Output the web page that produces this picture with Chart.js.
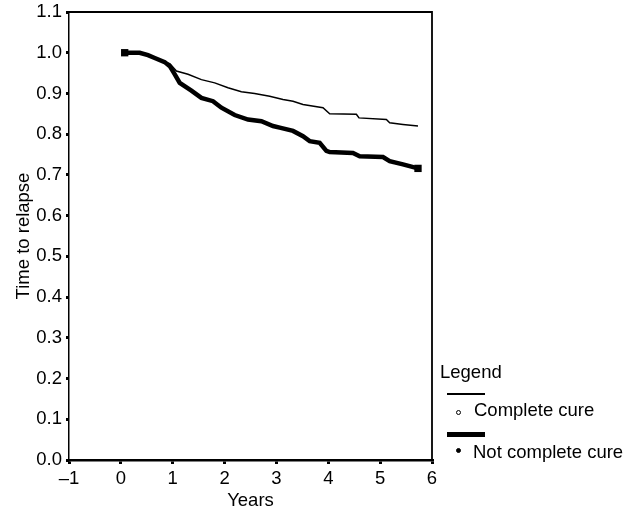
<!DOCTYPE html>
<html>
<head>
<meta charset="utf-8">
<script src="https://cdn.jsdelivr.net/npm/chart.js@4.4.1/dist/chart.umd.min.js"></script>
<style>
  html, body { margin: 0; padding: 0; background: #fff; }
  #wrap { position: relative; width: 639px; height: 512px; font-family: "Liberation Sans", Arial, sans-serif; color: #000; }
  canvas { position: absolute; left: 0; top: 0; }
  .txt { position: absolute; white-space: nowrap; font-size: 18.5px; line-height: 1; color: #000; }
  .sample { position: absolute; background: #000; }
  .dot { position: absolute; border: 1px solid #000; border-radius: 50%; }
</style>
</head>
<body>
<div id="wrap">
  <canvas id="c" width="639" height="512"></canvas>
  <div class="txt" style="left:440px; top:363px;">Legend</div>
  <div class="sample" style="left:447px; top:393px; width:38px; height:2px;"></div>
  <div class="dot" style="left:456px; top:410px; width:3px; height:3px;"></div>
  <div class="txt" style="left:474px; top:401px;">Complete cure</div>
  <div class="sample" style="left:447px; top:432px; width:38px; height:5px;"></div>
  <div class="dot" style="left:456px; top:448px; width:3px; height:3px; background:#000;"></div>
  <div class="txt" style="left:473px; top:443px;">Not complete cure</div>
</div>
<script>
const xTickValues = [-1, 0, 1, 2, 3, 4, 5, 6];
const yTickValues = [0.0, 0.1, 0.2, 0.3, 0.4, 0.5, 0.6, 0.7, 0.8, 0.9, 1.0, 1.1];

const completeYears = [0.074, 0.363, 0.523, 0.653, 0.846, 0.944, 1.071, 1.295, 1.553, 1.81, 2.066, 2.324, 2.58, 2.87, 3.127, 3.32, 3.512, 3.898, 4.027, 4.542, 4.592, 5.12, 5.184, 5.44, 5.73];
const completeSurv  = [1.0, 1.0, 0.994, 0.987, 0.977, 0.973, 0.955, 0.947, 0.934, 0.926, 0.914, 0.904, 0.900, 0.893, 0.885, 0.881, 0.873, 0.865, 0.850, 0.849, 0.840, 0.836, 0.828, 0.824, 0.820];

const notYears = [0.074, 0.363, 0.523, 0.653, 0.846, 0.944, 1.04, 1.135, 1.36, 1.553, 1.777, 1.939, 2.195, 2.452, 2.71, 2.934, 3.063, 3.32, 3.512, 3.641, 3.834, 3.963, 4.027, 4.476, 4.605, 5.055, 5.184, 5.44, 5.73];
const notSurv  = [1.0, 1.0, 0.994, 0.987, 0.977, 0.967, 0.947, 0.926, 0.907, 0.889, 0.881, 0.865, 0.847, 0.836, 0.832, 0.820, 0.816, 0.808, 0.795, 0.783, 0.779, 0.759, 0.756, 0.754, 0.746, 0.744, 0.734, 0.726, 0.716];

const toPts = (xs, ys) => xs.map((x, i) => ({ x: x, y: ys[i] }));
const FONT = '"Liberation Sans", Arial, sans-serif';

const frame = {
  id: 'frame',
  afterDraw(chart) {
    const { ctx, chartArea: a } = chart;
    ctx.save();
    ctx.strokeStyle = '#000';
    ctx.lineWidth = 1.8;
    ctx.beginPath();
    ctx.moveTo(a.left, a.top);
    ctx.lineTo(a.right, a.top);
    ctx.lineTo(a.right, a.bottom);
    ctx.stroke();
    ctx.restore();
  }
};

new Chart(document.getElementById('c'), {
  type: 'line',
  data: {
    datasets: [
      { label: 'Complete cure', data: toPts(completeYears, completeSurv), borderColor: '#000', borderWidth: 1.5, pointRadius: 0, fill: false, tension: 0 },
      { label: 'Not complete cure', data: toPts(notYears, notSurv), borderColor: '#000', backgroundColor: '#000', borderWidth: 4.5, fill: false, tension: 0,
        pointStyle: 'rect',
        pointRadius: c => (c.dataIndex === 0 || c.dataIndex === notYears.length - 1) ? 2 : 0 }
    ]
  },
  options: {
    responsive: false,
    animation: false,
    devicePixelRatio: 1,
    layout: { padding: { left: 0, right: 207, top: 12, bottom: 0 } },
    plugins: { legend: { display: false }, tooltip: { enabled: false } },
    scales: {
      x: {
        type: 'linear',
        min: -1, max: 6,
        afterBuildTicks: s => { s.ticks = xTickValues.map(v => ({ value: v })); },
        afterFit: s => { s.height = 52; },
        border: { color: '#000', width: 2.5 },
        grid: { drawOnChartArea: false, color: '#000', tickLength: 4, lineWidth: 3 },
        ticks: {
          color: '#000', padding: 4, maxRotation: 0,
          font: { family: FONT, size: 18.5 },
          callback: v => v < 0 ? '\u2013' + Math.abs(v) : String(v)
        },
        title: { display: true, text: 'Years', color: '#000', padding: { top: 0, bottom: 0 },
          font: { family: FONT, size: 18.5 } }
      },
      y: {
        min: 0, max: 1.1,
        afterBuildTicks: s => { s.ticks = yTickValues.map(v => ({ value: v })); },
        afterFit: s => { s.width = 69; s.paddingTop = 0; s.paddingBottom = 0; },
        border: { color: '#000', width: 1.5 },
        grid: { drawOnChartArea: false, color: '#000', tickLength: 3, lineWidth: 3 },
        ticks: {
          color: '#000', padding: 4,
          font: { family: FONT, size: 18.5, lineHeight: 1 },
          callback: v => Number(v).toFixed(1)
        },
        title: { display: true, text: 'Time to relapse', color: '#000', padding: { top: 13, bottom: 0 },
          font: { family: FONT, size: 18.5 } }
      }
    }
  },
  plugins: [frame]
});
</script>
</body>
</html>
